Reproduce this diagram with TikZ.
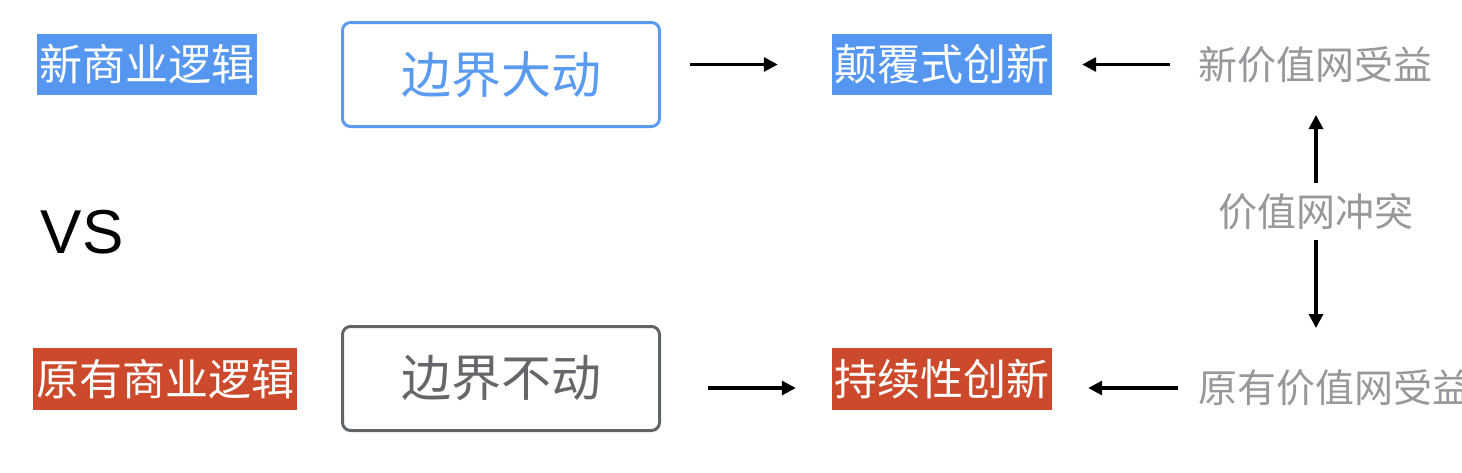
\documentclass[tikz,border=0pt]{standalone}
\usepackage{fontspec}
\newfontfamily\cjk{Noto Sans CJK SC}
\newfontfamily\latinsans{Liberation Sans}
\usetikzlibrary{arrows.meta}
\definecolor{fillblue}{RGB}{85,150,240}
\definecolor{lineblue}{RGB}{90,155,240}
\definecolor{fillred}{RGB}{204,74,43}
\definecolor{txtgray}{RGB}{150,152,155}
\definecolor{boxgray}{RGB}{95,100,105}
\definecolor{txtdark}{RGB}{100,102,105}
\tikzset{
  tag/.style={inner sep=0pt, minimum width=220pt, minimum height=61pt, text=white, font=\cjk\fontsize{43}{43}\selectfont},
  bigbox/.style={draw, rounded corners=8pt, line width=3pt, minimum width=317pt, minimum height=104pt, inner sep=0pt, font=\cjk\fontsize{50}{50}\selectfont},
  graytxt/.style={inner sep=0pt, text=txtgray, font=\cjk\fontsize{39}{39}\selectfont},
  arr/.style={line width=3.2pt, -{Triangle[length=14pt,width=14pt]}},
}
\begin{document}
\begin{tikzpicture}[x=1pt,y=-1pt]
\useasboundingbox (0,0) rectangle (1462,472);
\clip (0,0) rectangle (1462,472);
\node[tag, fill=fillblue] (a1) at (147,64.5) {新商业逻辑};
\node[bigbox, draw=lineblue, text=lineblue] (b1) at (501,74.5) {边界大动};
\node[tag, fill=fillblue] (i1) at (942,64.5) {颠覆式创新};
\node[graytxt, anchor=west] (g1) at (1198,65) {新价值网受益};
\node[graytxt] (c) at (1316,212) {价值网冲突};
\node[inner sep=0pt, font=\latinsans\fontsize{62}{62}\selectfont] (vs) at (82,232) {VS};
\node[tag, fill=fillred, minimum width=264pt, minimum height=62pt] (a2) at (165,379) {原有商业逻辑};
\node[bigbox, draw=boxgray, text=txtdark] (b2) at (501,378.5) {边界不动};
\node[tag, fill=fillred, minimum height=62pt] (i2) at (942,379) {持续性创新};
\node[graytxt, anchor=west] (g2) at (1198,388) {原有价值网受益};
\draw[arr, shorten <=29pt, shorten >=54pt] (b1.east |- i1.west) -- (i1.west);
\draw[arr, shorten <=28pt, shorten >=30pt] (g1.west |- i1.east) -- (i1.east);
\draw[arr, shorten <=47pt, shorten >=36pt] (b2.east |- g2.west) -- (i2.west |- g2.west);
\draw[arr, shorten <=20pt, shorten >=36pt] (g2.west) -- (i2.east |- g2.west);
\draw[arr, shorten <=29pt, shorten >=50pt] (c.center) -- (c.center |- g1.center);
\draw[arr, shorten <=28pt, shorten >=60pt] (c.center) -- (c.center |- g2.center);
\end{tikzpicture}
\end{document}
